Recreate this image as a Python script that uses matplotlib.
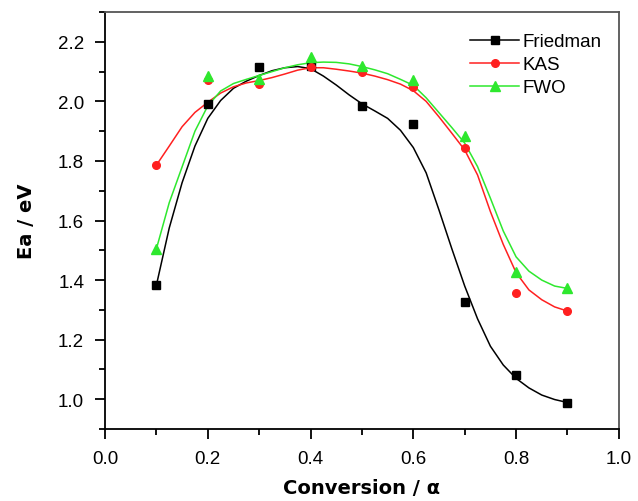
import matplotlib.pyplot as plt
from matplotlib.ticker import MultipleLocator

plt.rcParams['font.family'] = ['Liberation Sans', 'DejaVu Sans']

# measured points
alpha = [0.1, 0.2, 0.3, 0.4, 0.5, 0.6, 0.7, 0.8, 0.9]
friedman = [1.383, 1.991, 2.114, 2.12, 1.986, 1.924, 1.327, 1.083, 0.988]
kas = [1.786, 2.073, 2.058, 2.117, 2.10, 2.048, 1.844, 1.357, 1.296]
fwo = [1.505, 2.084, 2.076, 2.149, 2.12, 2.073, 1.883, 1.426, 1.372]

# fitted curves, every 0.025
fit_alpha = [0.1, 0.125, 0.15, 0.175, 0.2, 0.225, 0.25, 0.275, 0.3, 0.325, 0.35, 0.375,
             0.4, 0.425, 0.45, 0.475, 0.5, 0.525, 0.55, 0.575, 0.6, 0.625, 0.65, 0.675,
             0.7, 0.725, 0.75, 0.775, 0.8, 0.825, 0.85, 0.875, 0.9]
friedman_fit = [1.383, 1.575, 1.727, 1.85, 1.943, 2.003, 2.044, 2.068, 2.087, 2.103, 2.113, 2.117,
                2.11, 2.085, 2.055, 2.022, 1.992, 1.968, 1.943, 1.903, 1.845, 1.76, 1.635, 1.505,
                1.38, 1.27, 1.178, 1.115, 1.07, 1.038, 1.014, 0.999, 0.989]
kas_fit = [1.786, 1.85, 1.915, 1.963, 1.997, 2.028, 2.049, 2.062, 2.07, 2.08, 2.092, 2.105,
           2.113, 2.113, 2.108, 2.102, 2.095, 2.085, 2.073, 2.058, 2.036, 2.0, 1.948, 1.893,
           1.837, 1.753, 1.63, 1.52, 1.425, 1.367, 1.334, 1.31, 1.296]
fwo_fit = [1.505, 1.66, 1.78, 1.90, 1.985, 2.035, 2.06, 2.074, 2.087, 2.10, 2.113, 2.123,
           2.13, 2.132, 2.131, 2.126, 2.117, 2.106, 2.093, 2.074, 2.054, 2.012, 1.962, 1.912,
           1.86, 1.781, 1.675, 1.565, 1.478, 1.43, 1.40, 1.38, 1.372]

black, red, green = 'black', '#ff2020', '#2ee82e'

fig = plt.figure(figsize=(6.38, 5.02), dpi=100)
ax = fig.add_axes([0.1646, 0.1434, 0.8054, 0.8306])

ax.plot(fit_alpha, friedman_fit, c=black, lw=1.1)
ax.plot(fit_alpha, kas_fit, c=red, lw=1.1)
ax.plot(fit_alpha, fwo_fit, c=green, lw=1.1)
ax.plot(alpha, friedman, ls='none', marker='s', ms=5.5, c=black)
ax.plot(alpha, kas, ls='none', marker='o', ms=5.5, c=red)
ax.plot(alpha, fwo, ls='none', marker='^', ms=7, c=green)

# legend handles: line with marker
ax.plot([], [], c=black, lw=1.1, marker='s', ms=5.5, label='Friedman')
ax.plot([], [], c=red, lw=1.1, marker='o', ms=5.5, label='KAS')
ax.plot([], [], c=green, lw=1.1, marker='^', ms=7, label='FWO')
ax.legend(loc='upper right', frameon=False, fontsize=13.5, handlelength=2.6, handletextpad=0.2,
          labelspacing=0.32, bbox_to_anchor=(1.0, 0.99))

ax.set_xlim(0.0, 1.0)
ax.set_ylim(0.9, 2.3)
ax.xaxis.set_major_locator(MultipleLocator(0.2))
ax.xaxis.set_minor_locator(MultipleLocator(0.1))
ax.yaxis.set_minor_locator(MultipleLocator(0.1))
ax.set_yticks([1.0, 1.2, 1.4, 1.6, 1.8, 2.0, 2.2])
ax.tick_params(which='major', length=7, width=1.3, labelsize=13.5, direction='out', pad=8)
ax.tick_params(which='minor', length=4, width=1.3, direction='out')
for s in ax.spines.values():
    s.set_linewidth(1.3)
for s in ['top', 'right']:
    ax.spines[s].set_color('#555555')

ax.set_xlabel('Conversion / α', fontsize=14, fontweight='bold', family='DejaVu Sans', labelpad=8)
ax.set_ylabel('Ea / eV', fontsize=14, fontweight='bold', family='DejaVu Sans', labelpad=16)

fig.savefig('out.png', dpi=100)
